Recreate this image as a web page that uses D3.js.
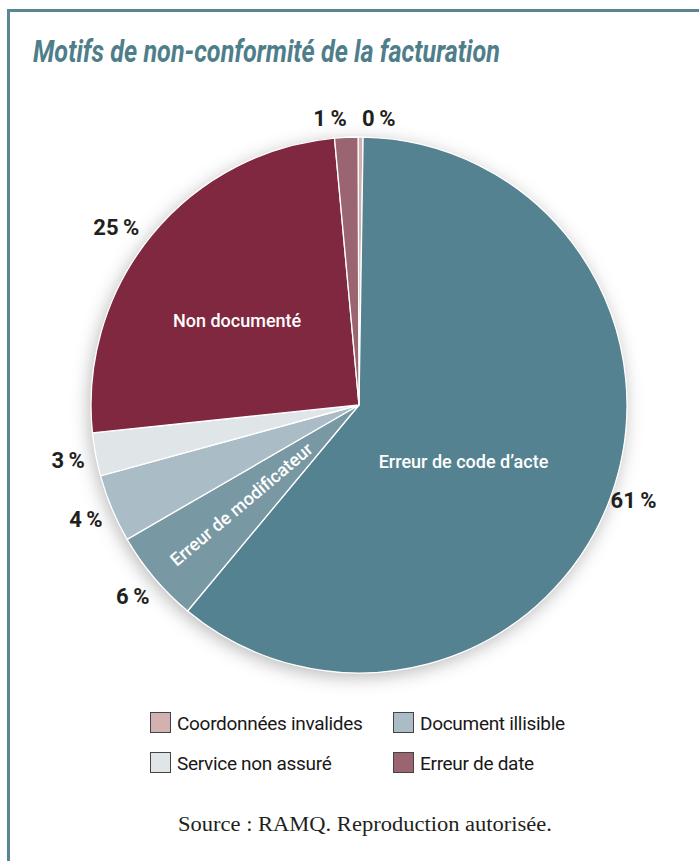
<!DOCTYPE html>
<html>
<head>
<meta charset="utf-8">
<script src="https://cdn.jsdelivr.net/npm/d3@7"></script>
<style>
  body { margin: 0; background: #fff; }
  svg { display: block; }
</style>
</head>
<body>
<svg id="chart"></svg>
<script>
// slices, clockwise from 12 o'clock
var categories = [
  "Coordonnées invalides",
  "Erreur de code d’acte",
  "Erreur de modificateur",
  "Document illisible",
  "Service non assuré",
  "Non documenté",
  "Erreur de date"
];
var values = [0.3, 60.8, 5.6, 4.1, 2.6, 25.2, 1.4];
var colors = ["#d3b1b1", "#558290", "#7898a3", "#aabcc6", "#e0e5e8", "#80283f", "#9a6470"];

var legendItems = ["Coordonnées invalides", "Document illisible", "Service non assuré", "Erreur de date"];

var w = 699;
var h = 861;
var cx = 359, cy = 405, r = 268;
var sans = "Roboto, 'Liberation Sans', sans-serif";

var svg = d3.select("#chart")
  .attr("width", w)
  .attr("height", h);

var defs = svg.append("defs");
var f = defs.append("filter")
  .attr("id", "shadow")
  .attr("x", "-20%").attr("y", "-20%")
  .attr("width", "140%").attr("height", "140%");
f.append("feDropShadow")
  .attr("dx", -2).attr("dy", 4)
  .attr("stdDeviation", 9)
  .attr("flood-color", "#000")
  .attr("flood-opacity", 0.28);

// frame
svg.append("path")
  .attr("d", "M8.5," + h + " V10.5 H" + w)
  .attr("fill", "none")
  .attr("stroke", "#5a8592")
  .attr("stroke-width", 3);

svg.append("text")
  .attr("x", 33)
  .attr("y", 62)
  .attr("textLength", 467)
  .attr("lengthAdjust", "spacingAndGlyphs")
  .style("font-family", sans)
  .style("font-weight", "bold")
  .style("font-style", "italic")
  .style("font-size", "31px")
  .attr("fill", "#4f7e8b")
  .text("Motifs de non-conformité de la facturation");

var data = categories.map(function(c, i) {
  return { name: c, value: values[i], color: colors[i] };
});

var startA = -0.2 * Math.PI / 180;
var pie = d3.pie()
  .sort(null)
  .value(function(d) { return d.value; })
  .startAngle(startA)
  .endAngle(startA + 2 * Math.PI);

var arcs = pie(data);
var arc = d3.arc().innerRadius(0).outerRadius(r);
var labelArc = d3.arc().innerRadius(296).outerRadius(296);

var g = svg.append("g")
  .attr("transform", "translate(" + cx + "," + cy + ")");

g.append("circle")
  .attr("r", r)
  .attr("fill", "#fff")
  .attr("filter", "url(#shadow)");

g.selectAll("path.slice")
  .data(arcs)
  .enter()
  .append("path")
  .attr("class", "slice")
  .attr("d", arc)
  .attr("fill", function(d) { return d.data.color; })
  .attr("stroke", "#fff")
  .attr("stroke-width", 1.3);

// small slices at the top are pushed apart
var nudge = {
  "Coordonnées invalides": [18, 9],
  "Erreur de date": [-15, 9],
  "Non documenté": [-14, 10],
  "Erreur de code d’acte": [-3, -8]
};

g.selectAll("text.pct")
  .data(arcs)
  .enter()
  .append("text")
  .attr("class", "pct")
  .attr("transform", function(d) {
    var c = labelArc.centroid(d);
    var n = nudge[d.data.name] || [0, 0];
    return "translate(" + (c[0] + n[0]) + "," + (c[1] + n[1]) + ")";
  })
  .attr("text-anchor", "middle")
  .attr("dy", "0.36em")
  .style("font-family", sans)
  .style("font-weight", "bold")
  .style("font-size", "22px")
  .attr("fill", "#231f20")
  .text(function(d) { return Math.round(d.data.value) + "\u2009%"; });

// inside labels: radius, then a small shift
var inner = {
  "Erreur de code d’acte": [120, -8, 15],
  "Non documenté": [150, -6, 11]
};

arcs.forEach(function(d) {
  var p = inner[d.data.name];
  if (p) {
    var c = d3.arc().innerRadius(p[0]).outerRadius(p[0]).centroid(d);
    g.append("text")
      .attr("x", c[0] + p[1])
      .attr("y", c[1] + p[2])
      .attr("text-anchor", "middle")
      .attr("dy", "0.35em")
      .style("font-family", sans)
      .style("font-weight", 500)
      .style("font-size", "18px")
      .attr("fill", "#fff")
      .text(d.data.name);
  }
  if (d.data.name === "Erreur de modificateur") {
    var mid = (d.startAngle + d.endAngle) / 2;
    var rr = 154;
    var x = Math.sin(mid) * rr, y = -Math.cos(mid) * rr;
    var rot = mid * 180 / Math.PI - 270;
    g.append("text")
      .attr("transform", "translate(" + x + "," + y + ") rotate(" + rot + ")")
      .attr("text-anchor", "middle")
      .attr("dy", "0.35em")
      .style("font-family", sans)
      .style("font-weight", 500)
      .style("font-size", "18px")
      .attr("fill", "#fff")
      .text(d.data.name);
  }
});

// legend
var colorOf = {};
data.forEach(function(d) { colorOf[d.name] = d.color; });

var leg = svg.append("g").attr("transform", "translate(150,712)");
var lg = leg.selectAll("g")
  .data(legendItems)
  .enter()
  .append("g")
  .attr("transform", function(d, i) {
    return "translate(" + (i % 2) * 243 + "," + Math.floor(i / 2) * 40 + ")";
  });
lg.append("rect")
  .attr("x", 0.5).attr("y", 0.5)
  .attr("width", 20).attr("height", 20)
  .attr("fill", function(d) { return colorOf[d]; })
  .attr("stroke", "#444")
  .attr("stroke-width", 1);
lg.append("text")
  .attr("x", 27)
  .attr("y", 18)
  .style("font-family", sans)
  .style("font-size", "19px")
  .style("letter-spacing", "-0.3px")
  .attr("fill", "#1a1718")
  .text(function(d) { return d; });

svg.append("text")
  .attr("x", 365)
  .attr("y", 831)
  .attr("text-anchor", "middle")
  .attr("textLength", 374)
  .attr("lengthAdjust", "spacingAndGlyphs")
  .style("font-family", "'Liberation Serif', serif")
  .style("font-size", "20px")
  .attr("fill", "#231f20")
  .text("Source : RAMQ. Reproduction autorisée.");
</script>
</body>
</html>
